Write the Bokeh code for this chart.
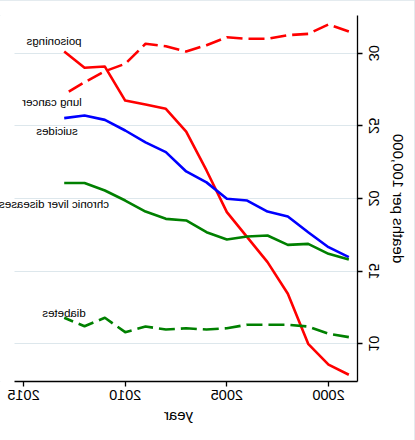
from bokeh.plotting import figure
from bokeh.models import Range1d, FixedTicker, Label
from bokeh.embed import file_html
from bokeh.resources import INLINE

# ---- data ----
years = [1999, 2000, 2001, 2002, 2003, 2004, 2005, 2006, 2007, 2008, 2009, 2010, 2011, 2012, 2013]
poisonings = [7.87, 8.57, 10.0, 13.44, 15.62, 17.34, 19.06, 21.93, 24.6, 26.17, 26.47, 26.74, 29.08, 29.0, 30.12]
lung_cancer = [31.49, 31.98, 31.33, 31.24, 30.99, 30.99, 31.10, 30.55, 30.12, 30.48, 30.65, 29.27, 28.76, 28.0, 27.16]
suicides = [15.96, 16.65, 17.68, 18.76, 19.1, 19.86, 19.98, 21.11, 21.86, 23.19, 23.86, 24.68, 25.41, 25.71, 25.53]
liver = [15.8, 16.19, 16.88, 16.81, 17.45, 17.38, 17.18, 17.68, 18.49, 18.6, 19.1, 19.86, 20.55, 21.07, 21.07]
diabetes = [10.46, 10.69, 11.19, 11.31, 11.31, 11.31, 11.07, 10.98, 11.07, 10.98, 11.19, 10.80, 11.79, 11.21, 11.79]

x_ticks = [2000, 2005, 2010, 2015]
y_ticks = [10, 15, 20, 25, 30]

label_texts = ["poisonings", "lung cancer", "suicides", "chronic liver diseases", "diabetes"]
label_x = [2013.5, 2013.6, 2013.35, 2013.5, 2013.01]
label_y = [30.87, 26.61, 24.66, 19.64, 12.13]

FONT = "Liberation Sans"

# axis extent (as in the reference) and the wider drawing area that lets labels run past it
X_AXIS = (1998.574, 2015.445)
X_VIEW = (1998.574, 2016.183)
Y_VIEW = (7.405, 32.595)

p = figure(width=415, height=440, output_backend="svg", toolbar_location=None,
           x_range=Range1d(*X_VIEW), y_range=Range1d(*Y_VIEW),
           min_border_left=57, min_border_right=0, min_border_top=15, min_border_bottom=59,
           background_fill_color="white", border_fill_color="white")
p.outline_line_color = None

series = [
    (poisonings, "#ff0000", "solid"),
    (lung_cancer, "#ff0000", "16 6"),
    (suicides, "#0000ff", "solid"),
    (liver, "#008000", "solid"),
    (diabetes, "#008000", "16 6"),
]
for vals, col, dash in series:
    p.line(years, vals, line_color=col, line_width=2.6, line_dash=dash, line_join="round")

for t, lx, ly in zip(label_texts, label_x, label_y):
    p.add_layout(Label(x=lx, y=ly, text=t, text_align="center", text_baseline="alphabetic",
                       text_font=FONT, text_font_size="11.5px", text_color="black"))

p.xaxis.ticker = FixedTicker(ticks=x_ticks)
p.yaxis.ticker = FixedTicker(ticks=y_ticks)
p.xaxis.bounds = X_AXIS
for ax in (p.xaxis[0], p.yaxis[0]):
    ax.axis_line_color = "black"
    ax.axis_line_width = 1.3
    ax.major_tick_line_color = "black"
    ax.major_tick_line_width = 1.3
    ax.major_tick_out = 5
    ax.major_tick_in = 0
    ax.minor_tick_line_color = None
    ax.major_label_text_font = FONT
    ax.major_label_text_font_size = "14.5px"
    ax.major_label_text_color = "black"
    ax.axis_label_text_font = FONT
    ax.axis_label_text_font_size = "15px"
    ax.axis_label_text_font_style = "normal"
    ax.axis_label_text_color = "black"

p.xaxis.axis_label = "year"
p.yaxis.axis_label = "deaths per 100,000"
p.xaxis.major_label_standoff = 3
p.xaxis.axis_label_standoff = 3
p.yaxis.major_label_orientation = "vertical"
p.yaxis.major_label_standoff = 6
p.yaxis.axis_label_standoff = 8

p.xgrid.grid_line_color = None
yg = p.ygrid[0]
yg.grid_line_color = "#dde7ec"
yg.grid_line_width = 1.2
if "cross_bounds" in yg.properties():
    yg.cross_bounds = X_AXIS
else:
    yg.grid_line_color = None
    for t in y_ticks:
        p.segment(x0=[X_AXIS[0]], y0=[t], x1=[X_AXIS[1]], y1=[t],
                  line_color="#dde7ec", line_width=1.2, level="underlay")

# the reference is a mirror image of the chart, flipped left to right
p.styles = {"width": "415px", "height": "440px",
            "transform": "scaleX(-1)", "transform-origin": "207.5px 220px",
            "outline": "1px solid #dbe5ea", "outline-offset": "-1px"}

open("out.html", "w").write(file_html(p, INLINE))
